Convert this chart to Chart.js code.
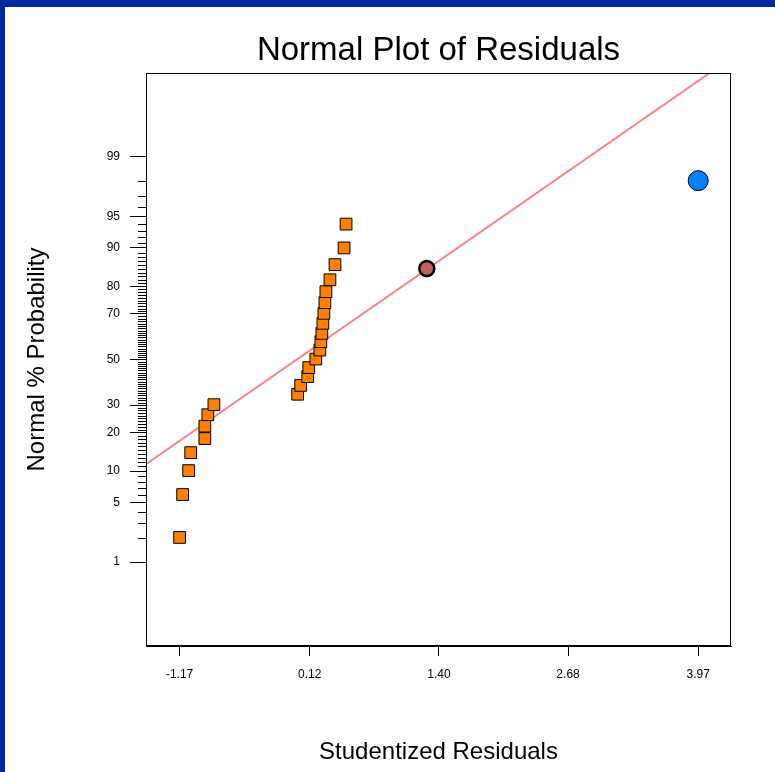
<!DOCTYPE html>
<html>
<head>
<meta charset="utf-8">
<title>Normal Plot of Residuals</title>
<script src="https://cdn.jsdelivr.net/npm/chart.js@4.4.0/dist/chart.umd.min.js"></script>
<style>
  html, body { margin: 0; padding: 0; background: #fff; }
  #wrap { position: relative; width: 775px; height: 772px; }
</style>
</head>
<body>
<div id="wrap"><canvas id="npp" width="775" height="772"></canvas></div>
<script>
// Studentized residuals (x) and normal % probability (y)
const orangeX = [-1.17, -1.14, -1.08, -1.06, -0.92, -0.92, -0.89, -0.83,
                 0.00, 0.03, 0.10, 0.11, 0.18, 0.22, 0.23, 0.24,
                 0.25, 0.26, 0.27, 0.28, 0.32, 0.37, 0.46, 0.48];
const orangePct = [2.05, 6.05, 10.1, 14.25, 18.2, 22.2, 26.3, 30.2,
                   34.5, 38.3, 42.2, 46.3, 50.2, 54.3, 58.1, 61.8,
                   66.1, 70.2, 74.3, 78.2, 82.0, 86.2, 90.0, 94.0];
const redX = [1.28];
const redPct = [85.2];
const blueX = [3.97];
const bluePct = [98.0];

// reference line end points
const lineX = [-1.503, 4.084];
const linePct = [11.47, 99.95];

const xTicks = [-1.17, 0.12, 1.40, 2.68, 3.97];
const yTicks = [1, 5, 10, 20, 30, 50, 70, 80, 90, 95, 99];
const yMinorTicks = [];
for (let p = 1; p <= 99; p++) {
    if (!yTicks.includes(p)) yMinorTicks.push(p);
}

const FONT = "'Liberation Sans', Arial, sans-serif";

// inverse normal CDF (Acklam), percent -> z
function probit(pct) {
    const p = pct / 100;
    const a = [-3.969683028665376e+01, 2.209460984245205e+02, -2.759285104469687e+02, 1.383577518672690e+02, -3.066479806614716e+01, 2.506628277459239e+00];
    const b = [-5.447609879822406e+01, 1.615858368580409e+02, -1.556989798598866e+02, 6.680131188771972e+01, -1.328068155288572e+01];
    const c = [-7.784894002430293e-03, -3.223964580411365e-01, -2.400758277161838e+00, -2.549732539343734e+00, 4.374664141464968e+00, 2.938163982698783e+00];
    const d = [7.784695709041462e-03, 3.224671290700398e-01, 2.445134137142996e+00, 3.754408661907416e+00];
    const pl = 0.02425;
    let q, r;
    if (p < pl) {
        q = Math.sqrt(-2 * Math.log(p));
        return (((((c[0]*q+c[1])*q+c[2])*q+c[3])*q+c[4])*q+c[5]) / ((((d[0]*q+d[1])*q+d[2])*q+d[3])*q+1);
    }
    if (p > 1 - pl) {
        q = Math.sqrt(-2 * Math.log(1 - p));
        return -(((((c[0]*q+c[1])*q+c[2])*q+c[3])*q+c[4])*q+c[5]) / ((((d[0]*q+d[1])*q+d[2])*q+d[3])*q+1);
    }
    q = p - 0.5;
    r = q * q;
    return (((((a[0]*r+a[1])*r+a[2])*r+a[3])*r+a[4])*r+a[5])*q / (((((b[0]*r+b[1])*r+b[2])*r+b[3])*r+b[4])*r+1);
}

function toPoints(xs, pcts) {
    return xs.map((x, i) => ({ x: x, y: probit(pcts[i]) }));
}

// box, minor ticks and the blue frame
const framePlugin = {
    id: 'frame',
    beforeDraw(chart) {
        const ctx = chart.ctx;
        ctx.save();
        ctx.fillStyle = '#fff';
        ctx.fillRect(0, 0, chart.width, chart.height);
        ctx.restore();
    },
    afterDraw(chart) {
        const { ctx, chartArea: a } = chart;
        const yScale = chart.scales.y;
        ctx.save();
        ctx.strokeStyle = '#000';
        ctx.lineWidth = 1;
        ctx.strokeRect(Math.round(a.left) + 0.5, Math.round(a.top) + 0.5,
                       Math.round(a.right - a.left) - 1, Math.round(a.bottom - a.top) - 1);
        ctx.beginPath();
        yMinorTicks.forEach(p => {
            const py = Math.round(yScale.getPixelForValue(probit(p))) + 0.5;
            ctx.moveTo(a.left - 8, py);
            ctx.lineTo(a.left, py);
        });
        ctx.stroke();
        ctx.fillStyle = '#0028A0';
        ctx.fillRect(0, 0, chart.width, 7);
        ctx.fillRect(0, 0, 5, chart.height);
        ctx.restore();
    }
};

new Chart(document.getElementById('npp'), {
    type: 'scatter',
    data: {
        datasets: [
            {
                label: 'blue',
                data: toPoints(blueX, bluePct),
                pointStyle: 'circle',
                pointRadius: 10,
                backgroundColor: '#0080FF',
                borderColor: '#000',
                borderWidth: 1,
                order: 1
            },
            {
                label: 'red',
                data: toPoints(redX, redPct),
                pointStyle: 'circle',
                pointRadius: 7.5,
                backgroundColor: '#C06060',
                borderColor: '#000',
                borderWidth: 2.5,
                order: 2
            },
            {
                label: 'residuals',
                data: toPoints(orangeX, orangePct),
                pointStyle: 'rect',
                pointRadius: 8.3,
                backgroundColor: '#FF8000',
                borderColor: '#000',
                borderWidth: 1,
                order: 3
            },
            {
                label: 'line',
                data: toPoints(lineX, linePct),
                showLine: true,
                pointRadius: 0,
                borderColor: '#FF8080',
                borderWidth: 2,
                order: 10
            }
        ]
    },
    options: {
        responsive: false,
        animation: false,
        layout: { padding: { left: 0, right: 44, top: 0, bottom: 0 } },
        plugins: {
            legend: { display: false },
            tooltip: { enabled: false },
            title: {
                display: true,
                text: 'Normal Plot of Residuals',
                color: '#000',
                fullSize: false,
                font: { family: FONT, size: 33, weight: 'normal' },
                padding: { top: 31, bottom: 2.4 }
            }
        },
        scales: {
            x: {
                type: 'linear',
                min: -1.503,
                max: 4.295,
                afterFit: scale => { scale.height = 126; },
                afterBuildTicks: scale => { scale.ticks = xTicks.map(v => ({ value: v })); },
                ticks: {
                    autoSkip: false,
                    maxRotation: 0,
                    color: '#000',
                    padding: 11,
                    font: { family: FONT, size: 12 },
                    callback: (v, i) => xTicks[i].toFixed(2)
                },
                grid: { drawOnChartArea: false, tickLength: 10, color: '#000' },
                border: { display: true, color: '#000' },
                title: {
                    display: true,
                    text: 'Studentized Residuals',
                    color: '#000',
                    font: { family: FONT, size: 24, weight: 'normal' },
                    padding: { top: 0, bottom: 5 }
                }
            },
            y: {
                type: 'linear',
                min: -3.29,
                max: 3.29,
                afterFit: scale => { scale.width = 146; },
                afterBuildTicks: scale => { scale.ticks = yTicks.map(p => ({ value: probit(p) })); },
                ticks: {
                    autoSkip: false,
                    color: '#000',
                    padding: 10,
                    font: { family: FONT, size: 12 },
                    callback: (v, i) => String(yTicks[i])
                },
                grid: { drawOnChartArea: false, tickLength: 16, color: '#000' },
                border: { display: true, color: '#000' },
                title: {
                    display: true,
                    text: 'Normal % Probability',
                    color: '#000',
                    font: { family: FONT, size: 24, weight: 'normal' },
                    padding: { top: 23, bottom: 0 }
                }
            }
        }
    },
    plugins: [framePlugin]
});
</script>
</body>
</html>
